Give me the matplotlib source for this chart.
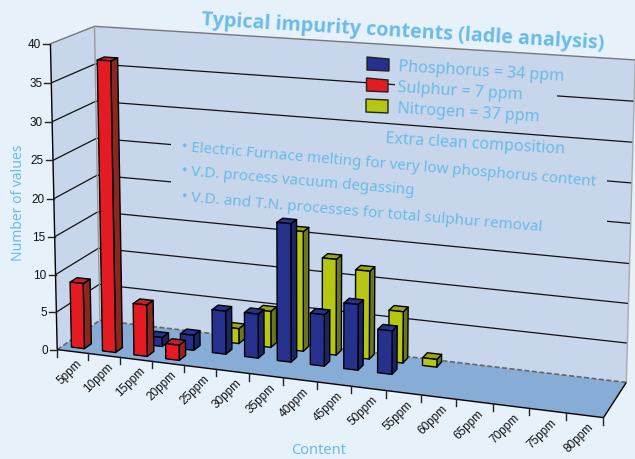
import numpy as np
import matplotlib
matplotlib.use('Agg')
import matplotlib.pyplot as plt
from matplotlib.patches import Polygon

categories = ['5ppm', '10ppm', '15ppm', '20ppm', '25ppm', '30ppm', '35ppm', '40ppm',
              '45ppm', '50ppm', '55ppm', '60ppm', '65ppm', '70ppm', '75ppm', '80ppm']
y_ticks = [0, 5, 10, 15, 20, 25, 30, 35, 40]

# series values per category, 0 = no bar
sulphur = [8.7, 38, 6.8, 2, 0, 0, 0, 0, 0, 0, 0, 0, 0, 0, 0, 0]
phosphorus = [0, 0, 1.2, 2, 5.7, 5.8, 18, 6.7, 8.5, 5.6, 0, 0, 0, 0, 0, 0]
nitrogen = [0, 0, 0, 0, 2, 4.8, 15.8, 12.6, 11.5, 6.7, 1, 0, 0, 0, 0, 0]

# colours: front, side, top
RED = ('#e51b24', '#8c2620', '#c4202a')
BLUE = ('#25318d', '#1b2468', '#25318d')
YELLOW = ('#b5c713', '#6b7620', '#98a518')
WALL = '#c8d6ec'
FLOOR = '#87acd6'
BG = '#e6f1fa'
TXT = '#6abbe6'

# camera: fit a projective matrix from the corners of the box (x, depth, value) -> pixels
world = [(0, 0, 0), (16, 0, 0), (0, 1, 0), (16, 1, 0), (0, 0, 40), (0, 1, 40), (16, 1, 40)]
pixel = [(60, 350), (603, 418), (97, 320), (627, 382), (48, 43), (97, 27), (635, 60)]
A = []
b = []
for (X, Z, Y), (u, v) in zip(world, pixel):
    A.append([X, Z, Y, 1, 0, 0, 0, 0, -u * X, -u * Z, -u * Y])
    A.append([0, 0, 0, 0, X, Z, Y, 1, -v * X, -v * Z, -v * Y])
    b += [u, v]
m = np.linalg.lstsq(np.array(A, float), np.array(b, float), rcond=None)[0]
P = np.append(m, 1).reshape(3, 4)


def proj(x, z, y):
    p = P @ np.array([x, z, y, 1.0])
    return p[0] / p[2], p[1] / p[2]


fig = plt.figure(figsize=(6.35, 4.59), dpi=100, facecolor=BG)
ax = fig.add_axes([0, 0, 1, 1])
ax.set_xlim(0, 635)
ax.set_ylim(459, 0)
ax.axis('off')


def face(pts, fc, ec='black', lw=1.0, z=2):
    ax.add_patch(Polygon([proj(*p) for p in pts], closed=True, fc=fc, ec=ec, lw=lw, zorder=z, joinstyle='round'))


def seg(a, b, **kw):
    pa, pb = proj(*a), proj(*b)
    ax.plot([pa[0], pb[0]], [pa[1], pb[1]], solid_capstyle='butt', **kw)


# walls and floor
face([(0, 0, 0), (0, 1, 0), (0, 1, 40), (0, 0, 40)], WALL, ec='none', z=1)
face([(0, 1, 0), (16, 1, 0), (16, 1, 40), (0, 1, 40)], WALL, ec='none', z=1)
face([(0, 0, 0), (16, 0, 0), (16, 1, 0), (0, 1, 0)], FLOOR, ec='none', z=1)

# gridlines
for v in y_ticks[1:-1]:
    seg((0, 0, v), (0, 1, v), color='#111111', lw=0.9, zorder=1.2)
    seg((0, 1, v), (16, 1, v), color='#111111', lw=0.9, zorder=1.2)

# the text boxes hide the gridlines behind them
ax.add_patch(Polygon([(395, 70), (557, 80), (557, 105), (395, 95)], fc=WALL, ec='none', zorder=1.3))
ax.add_patch(Polygon([(171, 135), (607, 165), (607, 240), (171, 200)], fc=WALL, ec='none', zorder=1.3))

# box edges
seg((0, 0, 40), (0, 1, 40), color='#777777', lw=1.0, zorder=1.5)
seg((0, 1, 40), (16, 1, 40), color='#777777', lw=1.0, zorder=1.5)
seg((0, 1, 0), (0, 1, 40), color='#999999', lw=1.0, zorder=1.5)
seg((16, 1, 0), (16, 1, 40), color='#aaaaaa', lw=1.0, zorder=1.5)
seg((0, 0, 0), (0, 1, 0), color='#666666', lw=1.2, ls=(0, (3, 1.5)), zorder=1.5)
seg((0, 1, 0), (16, 1, 0), color='#666666', lw=1.2, ls=(0, (3, 1.5)), zorder=1.5)
seg((0, 0, 0), (0, 0, 40), color='black', lw=1.0, zorder=1.5)
seg((0, 0, 0), (16, 0, 0), color='black', lw=1.0, zorder=1.5)
seg((16, 0, 0), (16, 1, 0), color='black', lw=1.0, zorder=1.5)

# ticks
for v in y_ticks:
    px, py = proj(0, 0, v)
    ax.plot([px - 7, px], [py, py], color='#222222', lw=1.0, zorder=1.5)
    ax.text(px - 9, py + 1, str(v), ha='right', va='center', fontsize=8.5, family='Liberation Sans', color='#111111')
for i in range(len(categories) + 1):
    px, py = proj(i, 0, 0)
    ax.plot([px, px], [py, py + 7], color='#222222', lw=1.0, zorder=1.5)
for i, c in enumerate(categories):
    px, py = proj(i + 0.5, 0, 0)
    ax.text(px + 3, py + 6, c, rotation=45, ha='right', va='top', rotation_mode='anchor',
            fontsize=8.5, family='Liberation Sans', color='#111111')


def bar(i, val, z0, colours, shift, w=0.42, d=0.16):
    x0 = i + 0.5 - w / 2 + shift
    x1 = i + 0.5 + w / 2 + shift
    z1 = z0 + d
    front, side, top = colours
    face([(x1, z0, 0), (x1, z1, 0), (x1, z1, val), (x1, z0, val)], side)
    face([(x0, z0, val), (x1, z0, val), (x1, z1, val), (x0, z1, val)], top)
    face([(x0, z0, 0), (x1, z0, 0), (x1, z0, val), (x0, z0, val)], front)


# back row first
for values, z0, colours, shift in [(nitrogen, 0.80, YELLOW, 0.05),
                                   (phosphorus, 0.45, BLUE, 0.05),
                                   (sulphur, 0.12, RED, 0)]:
    for i, val in enumerate(values):
        if val > 0:
            bar(i, val, z0, colours, shift)

# legend swatches
for pts, c in [([(367, 57), (389, 59), (389, 71), (367, 70)], BLUE[0]),
               ([(366.5, 78), (388, 80), (388, 92), (366.5, 91)], RED[0]),
               ([(366, 99), (388, 100), (388, 113), (366, 112)], YELLOW[0])]:
    ax.add_patch(Polygon(pts, fc=c, ec='#222222', lw=1.0, zorder=3))

font = 'Noto Sans'
notes = [
    (398, 71, 'Phosphorus = 34 ppm', 3.4, 11.6),
    (397, 92, 'Sulphur = 7 ppm', 3.4, 11.6),
    (397, 113, 'Nitrogen = 37 ppm', 3.4, 11.6),
    (385, 143, 'Extra clean composition', 3.4, 11.5),
    (181, 151, '• Electric Furnace melting for very low phosphorus content', 4.8, 10.9),
    (181, 175, '• V.D. process vacuum degassing', 4.8, 10.9),
    (181, 201, '• V.D. and T.N. processes for total sulphur removal', 4.8, 11),
]
for x, y, s, rot, fs in notes:
    ax.text(x, y, s, rotation=-rot, rotation_mode='anchor', ha='left', va='baseline',
            fontsize=fs, family=font, color=TXT, zorder=4)

ax.text(201, 25, 'Typical impurity contents (ladle analysis)', rotation=-3.4, rotation_mode='anchor',
        ha='left', va='baseline', fontsize=14.2, fontweight='bold', family='Open Sans', color=TXT, zorder=4)
ax.text(19, 203, 'Number of values', rotation=90, ha='center', va='center', fontsize=10, family=font, color=TXT)
ax.text(319, 451, 'Content', ha='center', va='center', fontsize=10.5, family=font, color=TXT)

fig.savefig('out.png', dpi=100, facecolor=BG)
